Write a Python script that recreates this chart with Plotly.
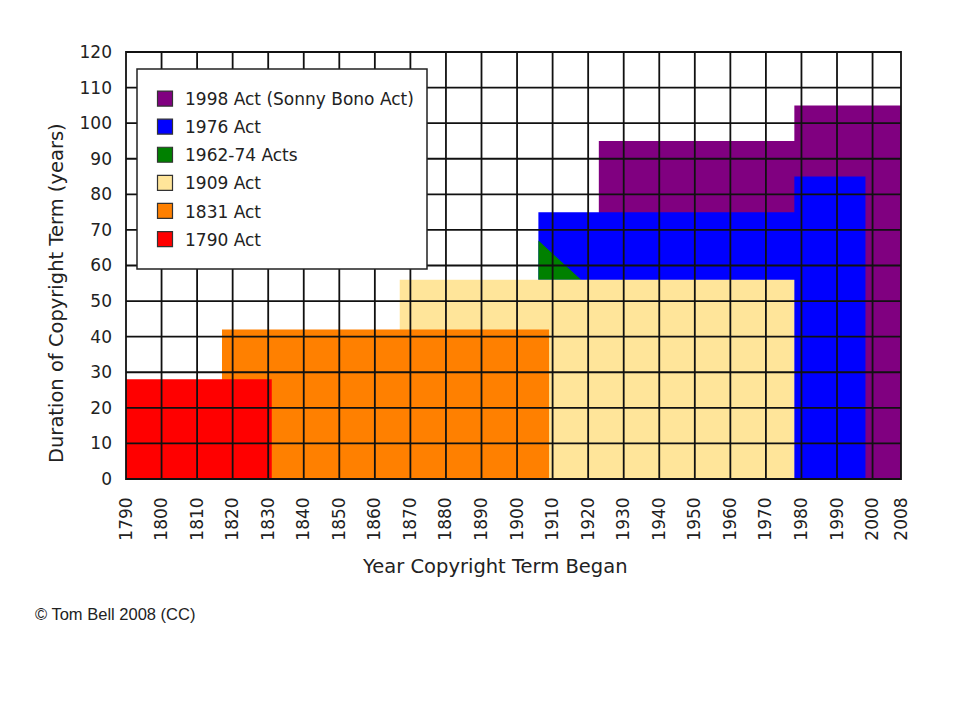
import plotly.graph_objects as go

# ---- data ----
acts = ["1998 Act (Sonny Bono Act)", "1976 Act", "1962-74 Acts", "1909 Act", "1831 Act", "1790 Act"]
colors = ["#800080", "#0000ff", "#008000", "#ffe59a", "#ff8000", "#ff0000"]

# step outlines: year where a term level starts, and the term (years)
purple_years = [1923, 1978, 2008]
purple_terms = [95, 105, 105]
blue_years = [1906, 1978, 1998]
blue_terms = [75, 85, 85]
green_years = [1906, 1906, 1918]
green_terms = [56, 67, 56]
yellow_years = [1867, 1978]
yellow_terms = [56, 56]
orange_years = [1817, 1909]
orange_terms = [42, 42]
red_years = [1790, 1831]
red_terms = [28, 28]

x_ticks = list(range(1790, 2001, 10)) + [2008]
y_ticks = list(range(0, 121, 10))

FONT = "DejaVu Sans"

fig = go.Figure()

def step(xs, ys, color):
    fig.add_trace(go.Scatter(x=xs, y=ys, mode="lines", line=dict(width=0, shape="hv", color=color),
                             fill="tozeroy", fillcolor=color, showlegend=False, hoverinfo="skip"))

step(purple_years, purple_terms, colors[0])
step(blue_years, blue_terms, colors[1])
fig.add_trace(go.Scatter(x=green_years, y=green_terms, mode="lines", line=dict(width=0, color=colors[2]),
                         fill="toself", fillcolor=colors[2], showlegend=False, hoverinfo="skip"))
step(yellow_years, yellow_terms, colors[3])
step(orange_years, orange_terms, colors[4])
step(red_years, red_terms, colors[5])

# legend entries
for i, (name, c) in enumerate(zip(acts, colors)):
    fig.add_trace(go.Scatter(x=[None], y=[None], mode="markers", name=name, legendgroup="g%d" % i,
                             marker=dict(symbol="square", size=15, color=c, line=dict(color="#333", width=1.2))))

# screen position of the plot area (page has an 8px body margin)
L, R, T, B = 126, 901, 52, 479
OFF = 8
def px(xp): return (xp - L) / (R - L)
def py(yp): return (B - yp) / (B - T)

shapes = []
for xv in x_ticks[1:-1]:
    shapes.append(dict(type="line", xref="x", yref="y", x0=xv, x1=xv, y0=0, y1=120,
                       line=dict(color="#111", width=1.8), layer="above"))
for yv in y_ticks[1:-1]:
    shapes.append(dict(type="line", xref="x", yref="y", x0=1790, x1=2008, y0=yv, y1=yv,
                       line=dict(color="#111", width=1.8), layer="above"))
# frame
shapes.append(dict(type="rect", xref="paper", yref="paper", x0=0, x1=1, y0=0, y1=1,
                   line=dict(color="#111", width=1.8), layer="above"))
# legend box
shapes.append(dict(type="rect", xref="paper", yref="paper", x0=px(137), x1=px(427), y0=py(269), y1=py(69),
                   line=dict(color="#222", width=1.5), fillcolor="white", layer="above"))

fig.update_layout(
    width=960, height=720,
    margin=dict(l=L - OFF, r=960 - (R - OFF), t=T - OFF, b=720 - (B - OFF)),
    paper_bgcolor="white", plot_bgcolor="white",
    showlegend=True,
    legend=dict(x=px(145), y=py(81), xanchor="left", yanchor="top", bgcolor="rgba(0,0,0,0)",
                borderwidth=0, font=dict(family=FONT, size=17, color="#222"),
                traceorder="grouped", tracegroupgap=3),
    xaxis=dict(range=[1790, 2008], tickvals=x_ticks, ticktext=[str(v) for v in x_ticks],
               tickangle=-90, showgrid=False, zeroline=False, ticks="", showline=False,
               ticklabelstandoff=14,
               tickfont=dict(family=FONT, size=17, color="#222")),
    yaxis=dict(range=[0, 120], tickvals=y_ticks, showgrid=False, zeroline=False, ticks="", showline=False,
               ticklabelstandoff=13,
               tickfont=dict(family=FONT, size=17, color="#222")),
    shapes=shapes,
    annotations=[
        dict(text="Duration of Copyright Term (years)", xref="paper", yref="paper", x=px(56), y=py(293),
             xanchor="center", yanchor="middle",
             textangle=-90, showarrow=False, font=dict(family=FONT, size=19.5, color="#222")),
        dict(text="Year Copyright Term Began", xref="paper", yref="paper", x=px(495), y=py(566),
             xanchor="center", yanchor="middle",
             showarrow=False, font=dict(family=FONT, size=19.5, color="#222")),
        dict(text="© Tom Bell 2008 (CC)", xref="paper", yref="paper", x=px(33), y=py(614),
             xanchor="left", yanchor="middle", showarrow=False,
             font=dict(family="Liberation Sans", size=16.5, color="#222")),
    ],
)

fig.write_html("out.html")
